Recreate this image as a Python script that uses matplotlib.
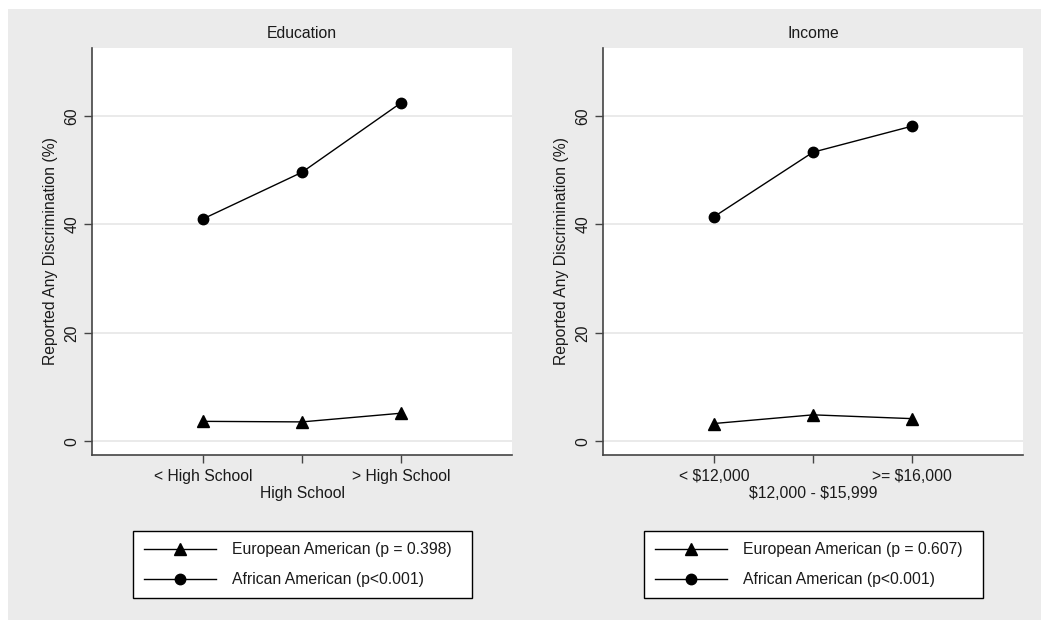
import matplotlib.pyplot as plt
from matplotlib.patches import Rectangle
from matplotlib.lines import Line2D

plt.rcParams['font.family'] = ['Liberation Sans', 'DejaVu Sans']
plt.rcParams['text.parse_math'] = False

# Data
edu_labels = ['< High School', '\nHigh School', '> High School']
edu_european = [3.7, 3.6, 5.2]
edu_african = [41.0, 49.6, 62.4]

inc_labels = ['< $12,000', '\n$12,000 - $15,999', '>= $16,000']
inc_european = [3.3, 4.9, 4.2]
inc_african = [41.4, 53.3, 58.1]

edu_p = ['European American (p = 0.398)', 'African American (p<0.001)']
inc_p = ['European American (p = 0.607)', 'African American (p<0.001)']

W, H = 1041, 620
fig = plt.figure(figsize=(W / 100, H / 100), dpi=100, facecolor='white')
fig.patches.append(Rectangle((8 / W, 0), 1, 1 - 9 / H, transform=fig.transFigure,
                             facecolor='#ebebeb', edgecolor='none', zorder=-10))

FS = 11.3
SPINE = '#444444'
TXT = '#1a1a1a'


def panel(left_px, title, labels, euro, afr, leg_labels):
    ax = fig.add_axes([left_px / W, 1 - 455 / H, 420 / W, 407 / H])
    ax.set_facecolor('white')
    x = [1, 2, 3]
    ax.plot(x, euro, color='black', lw=1.0, marker='^', ms=8, zorder=3)
    ax.plot(x, afr, color='black', lw=1.0, marker='o', ms=7.5, zorder=3)
    ax.set_xlim(1 - 1.12, 3 + 1.12)
    ax.set_ylim(-2.5, 72.5)
    ax.set_yticks([0, 20, 40, 60])
    ax.set_xticks(x)
    ax.set_xticklabels(labels, fontsize=FS, linespacing=1.15)
    for lab in ax.get_yticklabels():
        lab.set_rotation(90)
        lab.set_va('center')
    ax.tick_params(axis='y', labelsize=FS, colors=SPINE, labelcolor=TXT,
                   length=6, width=1.0, pad=3)
    ax.tick_params(axis='x', colors=SPINE, labelcolor=TXT, length=6, width=1.0, pad=4)
    ax.grid(axis='y', color='#e6e6e6', lw=1.2, zorder=0)
    ax.set_axisbelow(True)
    for s in ['top', 'right']:
        ax.spines[s].set_visible(False)
    for s in ['left', 'bottom']:
        ax.spines[s].set_color(SPINE)
        ax.spines[s].set_linewidth(1.2)
    ax.set_ylabel('Reported Any Discrimination (%)', fontsize=FS, color=TXT, labelpad=5)
    ax.set_title(title, fontsize=FS, color=TXT, pad=7)

    handles = [Line2D([], [], color='black', lw=1.0, marker='^', ms=8),
               Line2D([], [], color='black', lw=1.0, marker='o', ms=7.5)]
    leg_left = left_px + 41
    leg = fig.legend(handles, leg_labels, loc='upper left', mode='expand',
                     bbox_to_anchor=(leg_left / W, 1 - 532 / H, 339 / W, 0.001),
                     fontsize=FS, frameon=True, fancybox=False, edgecolor='black',
                     facecolor='white', framealpha=1, handlelength=4.6,
                     handletextpad=1.0, labelspacing=0.95, borderpad=0.7,
                     borderaxespad=0)
    leg.get_frame().set_linewidth(1.0)
    for t in leg.get_texts():
        t.set_color(TXT)
    return ax


panel(92, 'Education', edu_labels, edu_european, edu_african, edu_p)
panel(603, 'Income', inc_labels, inc_european, inc_african, inc_p)

fig.savefig('out.png', dpi=100, facecolor=fig.get_facecolor())
